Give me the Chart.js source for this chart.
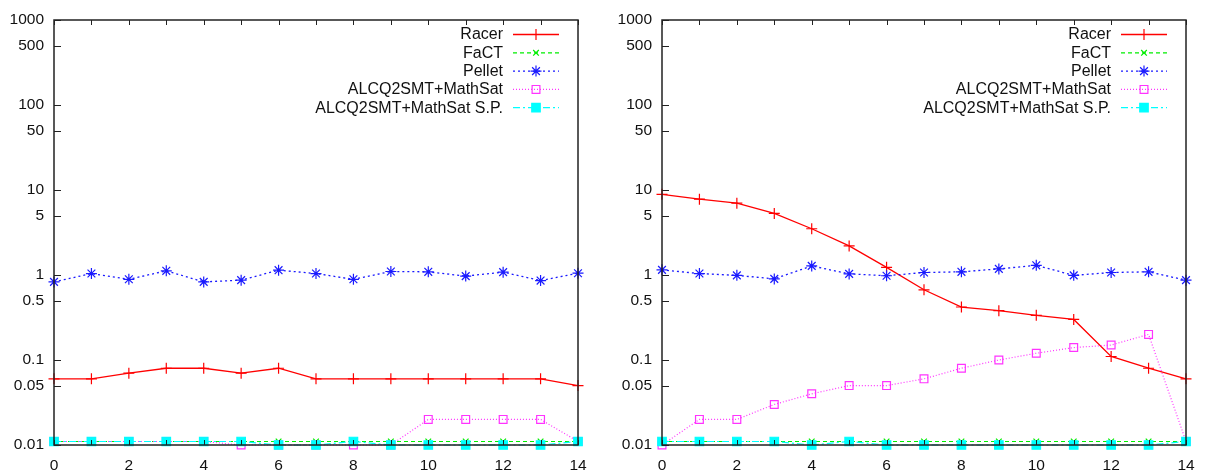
<!DOCTYPE html>
<html>
<head>
<meta charset="utf-8">
<script src="https://cdn.jsdelivr.net/npm/chart.js@4.4.0/dist/chart.umd.min.js"></script>
<style>
  html, body { margin: 0; padding: 0; background: #fff; }
  #wrap { position: relative; width: 1207px; height: 473px; }
  canvas { position: absolute; top: 0; }
</style>
</head>
<body>
<div id="wrap">
  <canvas id="left" width="600" height="473" style="left:0px"></canvas>
  <canvas id="right" width="599" height="473" style="left:608px"></canvas>
</div>
<script>
// -----------------------------
// Data
// -----------------------------
const xValues = [0, 1, 2, 3, 4, 5, 6, 7, 8, 9, 10, 11, 12, 13, 14];
const yTicks = [0.01, 0.05, 0.1, 0.5, 1, 5, 10, 50, 100, 500, 1000];
const seriesNames = ["Racer", "FaCT", "Pellet", "ALCQ2SMT+MathSat", "ALCQ2SMT+MathSat S.P."];

// left panel
const racerL  = [0.06, 0.06, 0.07, 0.08, 0.08, 0.07, 0.08, 0.06, 0.06, 0.06, 0.06, 0.06, 0.06, 0.06, 0.05];
const factL   = [0.011, 0.011, 0.011, 0.011, 0.011, 0.011, 0.011, 0.011, 0.011, 0.011, 0.011, 0.011, 0.011, 0.011, 0.011];
const pelletL = [0.83, 1.04, 0.89, 1.12, 0.83, 0.87, 1.14, 1.04, 0.89, 1.1, 1.09, 0.97, 1.08, 0.86, 1.05];
const mathL   = [0.011, 0.011, 0.011, 0.011, 0.011, 0.01, 0.01, 0.01, 0.01, 0.01, 0.02, 0.02, 0.02, 0.02, 0.011];
const spL     = [0.011, 0.011, 0.011, 0.011, 0.011, 0.011, 0.01, 0.01, 0.011, 0.01, 0.01, 0.01, 0.01, 0.01, 0.011];

// right panel
const racerR  = [8.9, 7.8, 7.0, 5.3, 3.5, 2.2, 1.23, 0.67, 0.42, 0.38, 0.335, 0.3, 0.11, 0.08, 0.06];
const factR   = [0.011, 0.011, 0.011, 0.011, 0.011, 0.011, 0.011, 0.011, 0.011, 0.011, 0.011, 0.011, 0.011, 0.011, 0.011];
const pelletR = [1.15, 1.04, 0.99, 0.9, 1.28, 1.03, 0.98, 1.07, 1.09, 1.18, 1.3, 0.99, 1.07, 1.09, 0.87];
const mathR   = [0.01, 0.02, 0.02, 0.03, 0.04, 0.05, 0.05, 0.06, 0.08, 0.1, 0.12, 0.14, 0.15, 0.2, 0.011];
const spR     = [0.011, 0.011, 0.011, 0.011, 0.01, 0.011, 0.01, 0.01, 0.01, 0.01, 0.01, 0.01, 0.01, 0.01, 0.011];

const FONT = "'Liberation Sans', Arial, sans-serif";

// series styles (gnuplot look)
const styles = [
  { color: "#ff0000", dash: [],           pointStyle: "cross",    radius: 5.5, fill: false, width: 1.3 },
  { color: "#00ee00", dash: [4, 3],       pointStyle: "crossRot", radius: 4,   fill: false, width: 1.2 },
  { color: "#1a1aff", dash: [2, 3],       pointStyle: "star",     radius: 5.5, fill: false, width: 1.3 },
  { color: "#ff33ff", dash: [1, 2],       pointStyle: "rect",     radius: 5.5, fill: false, width: 1.2 },
  { color: "#00ffff", dash: [7, 3, 2, 3], pointStyle: "rect",     radius: 6,   fill: true,  width: 1.2 }
];

function makeDatasets(arrays) {
  return arrays.map((vals, i) => {
    const s = styles[i];
    return {
      label: seriesNames[i],
      data: xValues.map((x, k) => ({ x: x, y: vals[k] })),
      borderColor: s.color,
      backgroundColor: s.fill ? s.color : "rgba(0,0,0,0)",
      borderDash: s.dash,
      borderWidth: s.width,
      pointStyle: s.pointStyle,
      pointRadius: s.radius,
      pointBorderColor: s.color,
      pointBackgroundColor: s.fill ? s.color : "rgba(0,0,0,0)",
      pointBorderWidth: 1.2,
      tension: 0,
      clip: false,
      order: 5 - i // later series drawn on top
    };
  });
}

// Box, inward ticks and in-plot legend, gnuplot style
const gnuplotFrame = {
  id: "gnuplotFrame",
  afterDraw(chart) {
    const ctx = chart.ctx;
    const a = chart.chartArea;
    const xs = chart.scales.x;
    const ys = chart.scales.y;
    ctx.save();
    ctx.strokeStyle = "#222";
    ctx.lineWidth = 1.5;
    ctx.setLineDash([]);
    ctx.strokeRect(a.left, a.top, a.right - a.left, a.bottom - a.top);

    ctx.lineWidth = 1;
    // x ticks, bottom and top
    xs.ticks.forEach(t => {
      const px = Math.round(xs.getPixelForValue(t.value)) + 0.5;
      ctx.beginPath();
      ctx.moveTo(px, a.bottom); ctx.lineTo(px, a.bottom - 5);
      ctx.moveTo(px, a.top); ctx.lineTo(px, a.top + 5);
      ctx.stroke();
    });
    // y ticks, left only
    yTicks.forEach(v => {
      const py = Math.round(ys.getPixelForValue(v)) + 0.5;
      ctx.beginPath();
      ctx.moveTo(a.left, py); ctx.lineTo(a.left + 7, py);
      ctx.stroke();
    });

    // legend
    const rowH = 18.3;
    const top = a.top + 14;
    const textRight = a.right - 75;
    const lineL = a.right - 65;
    const lineR = a.right - 19;
    ctx.font = "16px " + FONT;
    ctx.textAlign = "right";
    ctx.textBaseline = "middle";
    chart.data.datasets.forEach((ds, i) => {
      const y = top + i * rowH;
      ctx.fillStyle = "#111";
      ctx.fillText(ds.label, textRight, y + 1);
      ctx.strokeStyle = ds.borderColor;
      ctx.lineWidth = ds.borderWidth;
      ctx.setLineDash(ds.borderDash);
      ctx.beginPath();
      ctx.moveTo(lineL, y + 0.5); ctx.lineTo(lineR, y + 0.5);
      ctx.stroke();
      ctx.setLineDash([]);
      ctx.fillStyle = ds.pointBackgroundColor;
      ctx.lineWidth = ds.pointBorderWidth;
      Chart.helpers.drawPoint(ctx, {
        pointStyle: ds.pointStyle,
        radius: ds.pointRadius,
        rotation: 0,
        borderWidth: ds.pointBorderWidth
      }, (lineL + lineR) / 2, y + 0.5);
    });
    ctx.restore();
  }
};

function makeChart(id, arrays, rightPad) {
  return new Chart(document.getElementById(id).getContext("2d"), {
    type: "line",
    data: { datasets: makeDatasets(arrays) },
    options: {
      responsive: false,
      animation: false,
      layout: { padding: { top: 20, right: rightPad, left: 0, bottom: 0 } },
      plugins: { legend: { display: false }, tooltip: { enabled: false } },
      scales: {
        x: {
          type: "linear",
          min: 0,
          max: 14,
          grid: { display: false, drawTicks: false },
          border: { display: false },
          afterFit: s => { s.height = 28; },
          ticks: {
            stepSize: 1,
            padding: 11,
            color: "#111",
            font: { family: FONT, size: 15.5 },
            callback: v => (v % 2 === 0 ? String(v) : "")
          }
        },
        y: {
          type: "logarithmic",
          min: 0.01,
          max: 1000,
          grid: { display: false, drawTicks: false },
          border: { display: false },
          afterFit: s => { s.width = 54; },
          afterBuildTicks: s => { s.ticks = yTicks.map(v => ({ value: v })); },
          ticks: {
            padding: 10,
            color: "#111",
            font: { family: FONT, size: 15.5 },
            callback: v => String(v)
          }
        }
      }
    },
    plugins: [gnuplotFrame]
  });
}

makeChart("left", [racerL, factL, pelletL, mathL, spL], 22);
makeChart("right", [racerR, factR, pelletR, mathR, spR], 21);
</script>
</body>
</html>
